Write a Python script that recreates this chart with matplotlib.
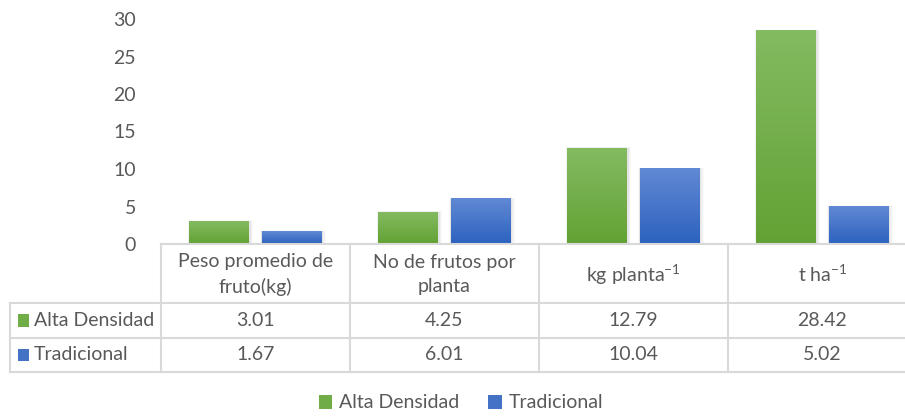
import matplotlib
matplotlib.use("Agg")
import matplotlib.pyplot as plt
import numpy as np
from matplotlib.colors import LinearSegmentedColormap
from matplotlib.patches import Patch, Rectangle
from matplotlib.transforms import blended_transform_factory

# Data
categories = ["Peso promedio de\nfruto(kg)", "No de frutos por\nplanta",
              "kg planta$^{\\mathregular{-1}}$", "t ha$^{\\mathregular{-1}}$"]
series_names = ["Alta Densidad", "Tradicional"]
alta_densidad = [3.01, 4.25, 12.79, 28.42]
tradicional = [1.67, 6.01, 10.04, 5.02]
y_ticks = [0, 5, 10, 15, 20, 25, 30]

plt.rcParams["font.family"] = ["Lato", "DejaVu Sans"]
plt.rcParams["mathtext.fontset"] = "custom"
plt.rcParams["mathtext.rm"] = "Lato"
plt.rcParams["mathtext.it"] = "Lato:italic"
plt.rcParams["mathtext.bf"] = "Lato:bold"

TXT = "#595959"
GRID = "#d9d9d9"
FS = 14
colors = {"Alta Densidad": ("#83bb61", "#62a234", "#70ad47"),
          "Tradicional": ("#6189d4", "#2c62bf", "#4472c4")}

fig = plt.figure(figsize=(9.05, 4.16), dpi=100)
W, H = 905, 416
ax_left, ax_right, ax_bottom, ax_top = 161, 917, 244, 19
ax = fig.add_axes([ax_left / W, 1 - ax_bottom / H,
                   (ax_right - ax_left) / W, (ax_bottom - ax_top) / H])

x = np.arange(len(categories))
bar_w = 0.316
offset = 0.192
grad = np.linspace(0, 1, 100).reshape(-1, 1)

def draw_bars(vals, name, sign):
    top_c, bot_c, _ = colors[name]
    cmap = LinearSegmentedColormap.from_list(name, [bot_c, top_c])
    for xi, v in zip(x, vals):
        x0 = xi + sign * offset - bar_w / 2
        # soft shadow
        for k, a in enumerate([0.05, 0.035, 0.02]):
            d = 0.006 * (k + 1)
            ax.add_patch(Rectangle((x0 - d * 0.5, 0), bar_w + d * 1.8, v + d * 8,
                                   facecolor="black", alpha=a, lw=0, zorder=1))
        ax.imshow(grad, extent=(x0, x0 + bar_w, 0, v), origin="lower",
                  cmap=cmap, aspect="auto", zorder=2, interpolation="bilinear")

draw_bars(alta_densidad, "Alta Densidad", -1)
draw_bars(tradicional, "Tradicional", 1)

ax.set_xlim(-0.5, len(categories) - 0.5)
ax.set_ylim(0, 30)
ax.set_yticks(y_ticks)
ax.set_yticklabels([str(t) for t in y_ticks], fontsize=FS, color=TXT)
ax.tick_params(axis="y", length=0, pad=18)
ax.set_xticks([])
for s in ax.spines.values():
    s.set_visible(False)

# data table below the axis
tr = blended_transform_factory(ax.transData, ax.transAxes)
ax_h = ax_bottom - ax_top
def ya(py):
    return (ax_bottom - py) / ax_h

row_edges = [244, 303, 338, 372]
left_x = -0.5 - (ax_left - 10) / ((ax_right - ax_left) / len(categories))
lkw = dict(color=GRID, lw=1.5, transform=tr, clip_on=False, zorder=3)

# horizontal lines
ax.plot([-0.5, len(categories) - 0.5], [0, 0], **lkw)
for py in row_edges[1:]:
    ax.plot([left_x, len(categories) - 0.5], [ya(py), ya(py)], **lkw)
# vertical lines
for xb in np.arange(len(categories) + 1) - 0.5:
    ax.plot([xb, xb], [0, ya(row_edges[-1])], **lkw)
ax.plot([left_x, left_x], [ya(row_edges[1]), ya(row_edges[-1])], **lkw)

tkw = dict(transform=tr, ha="center", va="center", fontsize=FS, color=TXT,
           clip_on=False)
for xi, cat in zip(x, categories):
    ax.text(xi, ya((row_edges[0] + row_edges[1]) / 2 + 1), cat, linespacing=1.55, **tkw)
for r, (name, vals) in enumerate([("Alta Densidad", alta_densidad),
                                   ("Tradicional", tradicional)]):
    yc = ya((row_edges[r + 1] + row_edges[r + 2]) / 2)
    for xi, v in zip(x, vals):
        ax.text(xi, yc, f"{v:.2f}", **tkw)
    ax.text(left_x + 0.125, yc, name, transform=tr, ha="left", va="center",
            fontsize=FS, color=TXT, clip_on=False)
    ax.add_patch(Rectangle((left_x + 0.04, yc - 0.027), 0.058, 0.054,
                           facecolor=colors[name][2], lw=0, transform=tr,
                           clip_on=False))

handles = [Patch(facecolor=colors[n][2], lw=0) for n in series_names]
fig.legend(handles, series_names, loc="center", bbox_to_anchor=(461 / W, 13 / H),
           ncol=2, frameon=False, fontsize=FS, labelcolor=TXT,
           handlelength=0.7, handleheight=0.7, handletextpad=0.35,
           columnspacing=1.5)

fig.savefig("out.png", dpi=100)
